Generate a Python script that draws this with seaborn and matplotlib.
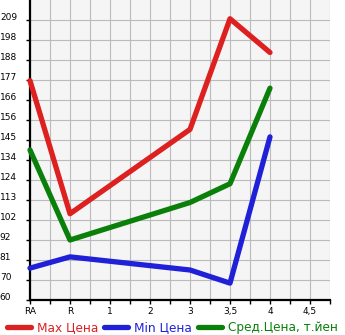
import numpy as np
import pandas as pd
import matplotlib
matplotlib.use("Agg")
import matplotlib.pyplot as plt
from matplotlib.lines import Line2D
import seaborn as sns

categories = ["RA", "R", "1", "2", "3", "3,5", "4", "4,5"]
max_price = [177, 106, None, None, 151, 210, 192, None]
min_price = [77, 83, None, None, 76, 69, 147, None]
avg_price = [140, 92, None, None, 112, 122, 173, None]
series_names = ["Max Цена", "Min Цена", "Сред.Цена, т.йен"]
ytick_labels = ["60", "70", "81", "92", "102", "113", "124", "134", "145",
                "156", "166", "177", "188", "198", "209"]
colors = ["#dd2020", "#2020d8", "#0a800a"]

rows = []
for name, vals in zip(series_names, [max_price, min_price, avg_price]):
    for i, v in enumerate(vals):
        if v is not None:
            rows.append({"pos": i, "value": v, "series": name})
df = pd.DataFrame(rows)

plt.rcParams["font.family"] = ["DejaVu Sans"]
plt.rcParams["font.size"] = 6

fig = plt.figure(figsize=(3.45, 3.35), dpi=100)
ax = fig.add_axes([30 / 345, 35 / 335, 300 / 345, 300 / 335])
sns.lineplot(data=df, x="pos", y="value", hue="series", hue_order=series_names,
             palette=colors, linewidth=3.8, ax=ax, legend=False, sort=True)
for ln in ax.lines:
    ln.set_solid_capstyle("round")
    ln.set_solid_joinstyle("round")
    ln.set_clip_on(False)
    ln.set_zorder(3)

ax.set_xlim(0, 7.5)
ax.set_ylim(60, 220)
ax.set_facecolor("#f5f5f5")
ax.set_xlabel("")
ax.set_ylabel("")

ax.set_xticks(range(len(categories)), categories)
ax.set_xticks(np.arange(0.5, 7.6, 1.0), minor=True)
yt = np.linspace(60, 220, 16)[:-1]
ax.set_yticks(yt, ytick_labels, ha="left", va="baseline")
ax.grid(which="both", color="#bbbbbb", linewidth=0.8, zorder=0)
ax.set_axisbelow(True)
ax.tick_params(axis="x", which="both", length=3, width=1, color="black", pad=2, labelsize=6.5)
ax.tick_params(axis="y", which="both", length=3, width=1, color="black", pad=18.7, labelsize=6.5)
for s in ["top", "right"]:
    ax.spines[s].set_visible(False)
for s in ["left", "bottom"]:
    ax.spines[s].set_color("black")
    ax.spines[s].set_linewidth(1.6)

handles = [Line2D([0], [0], color=c, lw=3.8, solid_capstyle="round") for c in colors]
leg = fig.legend(handles, series_names, loc="center", bbox_to_anchor=(0.5, 7 / 335),
                 ncol=3, frameon=False, fontsize=8.7, handlelength=2.0,
                 handletextpad=0.5, columnspacing=0.45, borderpad=0, borderaxespad=0)
for t, c in zip(leg.get_texts(), colors):
    t.set_color(c)

fig.savefig("out.png", dpi=100)
